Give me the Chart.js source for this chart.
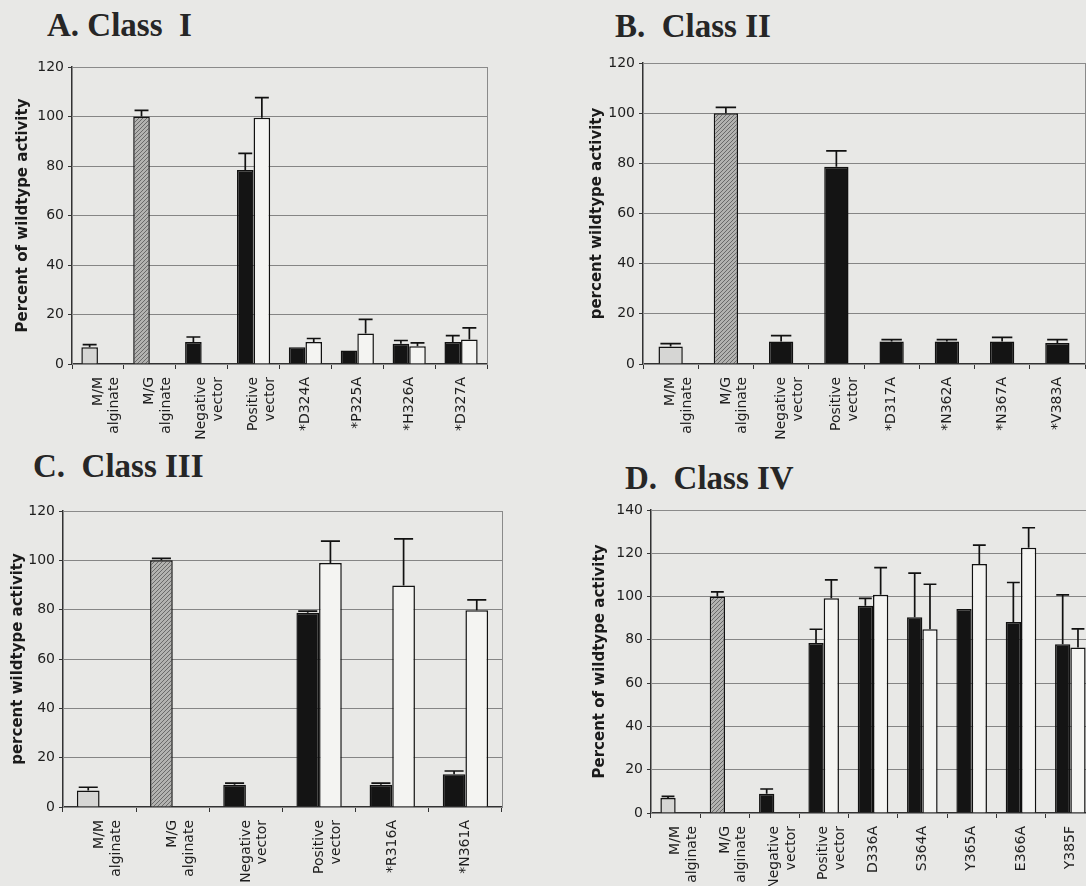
<!DOCTYPE html>
<html lang="en">
<head>
<meta charset="UTF-8">
<title>Percent of wildtype activity by class</title>
<script src="https://cdn.jsdelivr.net/npm/chart.js"></script>
<style>
    body {
        margin: 0;
        width: 1086px;
        height: 886px;
        overflow: hidden;
        position: relative;
        background: #e8e8e6;
    }
    .panel {
        position: absolute;
    }
    .heading {
        position: absolute;
        font-family: "Liberation Serif", "Times New Roman", serif;
        font-weight: bold;
        font-size: 33px;
        line-height: 33px;
        color: #262626;
        white-space: pre;
    }
</style>
</head>
<body>
<div class="heading" style="left:47px; top:9px;">A. Class  I</div>
<div class="heading" style="left:615px; top:10px;">B.  Class II</div>
<div class="heading" style="left:33px; top:450px;">C.  Class III</div>
<div class="heading" style="left:625px; top:462px;">D.  Class IV</div>

<div class="panel" style="left:0px; top:45px;"><canvas id="chartA" width="500" height="398"></canvas></div>
<div class="panel" style="left:560px; top:45px;"><canvas id="chartB" width="540" height="398"></canvas></div>
<div class="panel" style="left:0px; top:480px;"><canvas id="chartC" width="520" height="410"></canvas></div>
<div class="panel" style="left:560px; top:480px;"><canvas id="chartD" width="560" height="410"></canvas></div>

<script>
// ---- data ----
const labelsA = [["M/M", "alginate"], ["M/G", "alginate"], ["Negative", "vector"], ["Positive", "vector"], "*D324A", "*P325A", "*H326A", "*D327A"];
const darkA = [6.8, 100, 8.9, 78.4, 6.8, 5.5, 8.2, 8.9];
const darkErrA = [1.0, 2.5, 2.0, 6.7, 0, 0, 1.3, 2.6];
const whiteA = [null, null, null, 99.5, 8.9, 12.3, 7.2, 9.9];
const whiteErrA = [0, 0, 0, 8.1, 1.4, 5.7, 1.3, 4.7];

const labelsB = [["M/M", "alginate"], ["M/G", "alginate"], ["Negative", "vector"], ["Positive", "vector"], "*D317A", "*N362A", "*N367A", "*V383A"];
const darkB = [7.0, 100, 9.0, 78.6, 9.0, 9.0, 9.0, 8.4];
const darkErrB = [1.1, 2.3, 2.3, 6.4, 0.7, 0.7, 1.6, 1.3];

const labelsC = [["M/M", "alginate"], ["M/G", "alginate"], ["Negative", "vector"], ["Positive", "vector"], "*R316A", "*N361A"];
const darkC = [6.7, 100, 9.0, 78.7, 9.0, 13.3];
const darkErrC = [1.3, 0.8, 0.7, 0.7, 0.7, 1.3];
const whiteC = [null, null, null, 98.9, 89.8, 79.8];
const whiteErrC = [0, 0, 0, 8.9, 18.9, 4.2];

const labelsD = [["M/M", "alginate"], ["M/G", "alginate"], ["Negative", "vector"], ["Positive", "vector"], "D336A", "S364A", "Y365A", "E366A", "Y385F"];
const darkD = [6.9, 100, 8.9, 78.5, 95.8, 90.5, 94.3, 88.2, 78.0];
const darkErrD = [0.8, 2.2, 2.2, 6.4, 3.4, 20.3, 0, 18.3, 22.8];
const whiteD = [null, null, null, 99.2, 100.8, 84.9, 115.1, 122.6, 76.5];
const whiteErrD = [0, 0, 0, 8.5, 12.6, 20.8, 8.7, 9.2, 8.6];

// ---- styles ----
const hatch = (function () {
    const c = document.createElement("canvas");
    c.width = 4; c.height = 4;
    const g = c.getContext("2d");
    g.fillStyle = "#b2b2b0";
    g.fillRect(0, 0, 4, 4);
    g.strokeStyle = "#6a6a6a";
    g.lineWidth = 1;
    g.beginPath();
    g.moveTo(0, 4); g.lineTo(4, 0);
    g.moveTo(-1, 1); g.lineTo(1, -1);
    g.moveTo(3, 5); g.lineTo(5, 3);
    g.stroke();
    return g.createPattern(c, "repeat");
})();

function darkColours(n) {
    let cols = ["#d6d6d4", hatch];
    for (let i = 2; i < n; i++) cols.push("#141414");
    return cols;
}

const errorBars = {
    id: "errorBars",
    afterDatasetsDraw(chart) {
        const ctx = chart.ctx;
        const y = chart.scales.y;
        chart.data.datasets.forEach((ds, di) => {
            const meta = chart.getDatasetMeta(di);
            meta.data.forEach((bar, i) => {
                const v = ds.data[i];
                const e = ds.errors[i];
                if (v == null || !e) return;
                const top = y.getPixelForValue(v + e);
                const half = bar.width * 0.42;
                ctx.save();
                ctx.strokeStyle = "#111";
                ctx.lineWidth = 1.7;
                ctx.beginPath();
                ctx.moveTo(bar.x, bar.y);
                ctx.lineTo(bar.x, top);
                ctx.moveTo(bar.x - half, top);
                ctx.lineTo(bar.x + half, top);
                ctx.stroke();
                ctx.restore();
            });
        });
    }
};

const plotFrame = {
    id: "plotFrame",
    beforeDatasetsDraw(chart) {
        const a = chart.chartArea;
        const ctx = chart.ctx;
        ctx.save();
        ctx.strokeStyle = "#8a8a8a";
        ctx.lineWidth = 1;
        ctx.strokeRect(a.left + 0.5, a.top + 0.5, a.right - a.left, a.bottom - a.top);
        ctx.restore();
    }
};

// box = canvas position on page, plot = wanted chart area on page
function makePanel(id, box, plot, labels, datasets, yMax, yTitle, titleX, catPct) {
    new Chart(document.getElementById(id), {
        type: "bar",
        data: { labels: labels, datasets: datasets },
        plugins: [plotFrame, errorBars],
        options: {
            responsive: false,
            animation: false,
            layout: {
                padding: {
                    top: plot.t - box.top,
                    right: box.left + box.w - plot.r,
                    left: 0,
                    bottom: 0
                }
            },
            datasets: {
                bar: { categoryPercentage: catPct, barPercentage: 1.0 }
            },
            plugins: {
                legend: { display: false },
                tooltip: { enabled: false }
            },
            scales: {
                x: {
                    afterFit: (s) => { s.height = box.top + box.h - plot.b; },
                    grid: {
                        display: true,
                        drawOnChartArea: false,
                        offset: true,
                        tickLength: 5,
                        tickColor: "#333"
                    },
                    border: { color: "#333", width: 1.5 },
                    ticks: {
                        autoSkip: false,
                        minRotation: 90,
                        maxRotation: 90,
                        padding: 8,
                        color: "#1e1e1e",
                        font: { family: "DejaVu Sans", size: 14 }
                    }
                },
                y: {
                    min: 0,
                    max: yMax,
                    afterFit: (s) => { s.width = plot.l - box.left; },
                    grid: {
                        color: "#858585",
                        lineWidth: 1,
                        tickLength: 4,
                        tickColor: "#333"
                    },
                    border: { color: "#333", width: 1.5 },
                    ticks: {
                        stepSize: 20,
                        padding: 4,
                        color: "#1e1e1e",
                        font: { family: "DejaVu Sans", size: 14 }
                    },
                    title: {
                        display: true,
                        text: yTitle,
                        color: "#1a1a1a",
                        padding: { top: titleX - box.left - 9, bottom: 0 },
                        font: { family: "DejaVu Sans", size: 15, weight: "bold" }
                    }
                }
            }
        }
    });
}

function darkSet(values, errs) {
    return {
        data: values,
        errors: errs,
        backgroundColor: darkColours(values.length),
        borderColor: "#111",
        borderWidth: 1.5
    };
}

function whiteSet(values, errs) {
    return {
        data: values,
        errors: errs,
        backgroundColor: "#f4f4f2",
        borderColor: "#111",
        borderWidth: 1.5
    };
}

makePanel("chartA", { left: 0, top: 45, w: 500, h: 398 }, { l: 72, r: 487, t: 67, b: 364 },
    labelsA, [darkSet(darkA, darkErrA), whiteSet(whiteA, whiteErrA)], 120,
    "Percent of wildtype activity", 23, 0.64);

makePanel("chartB", { left: 560, top: 45, w: 540, h: 398 }, { l: 643, r: 1085, t: 63, b: 364 },
    labelsB, [darkSet(darkB, darkErrB)], 120,
    "percent wildtype activity", 597, 0.44);

makePanel("chartC", { left: 0, top: 480, w: 520, h: 410 }, { l: 63, r: 502, t: 511, b: 807 },
    labelsC, [darkSet(darkC, darkErrC), whiteSet(whiteC, whiteErrC)], 120,
    "percent wildtype activity", 18, 0.62);

makePanel("chartD", { left: 560, top: 480, w: 560, h: 410 }, { l: 651, r: 1095, t: 510, b: 813 },
    labelsD, [darkSet(darkD, darkErrD), whiteSet(whiteD, whiteErrD)], 140,
    "Percent of wildtype activity", 600, 0.62);
</script>
</body>
</html>
